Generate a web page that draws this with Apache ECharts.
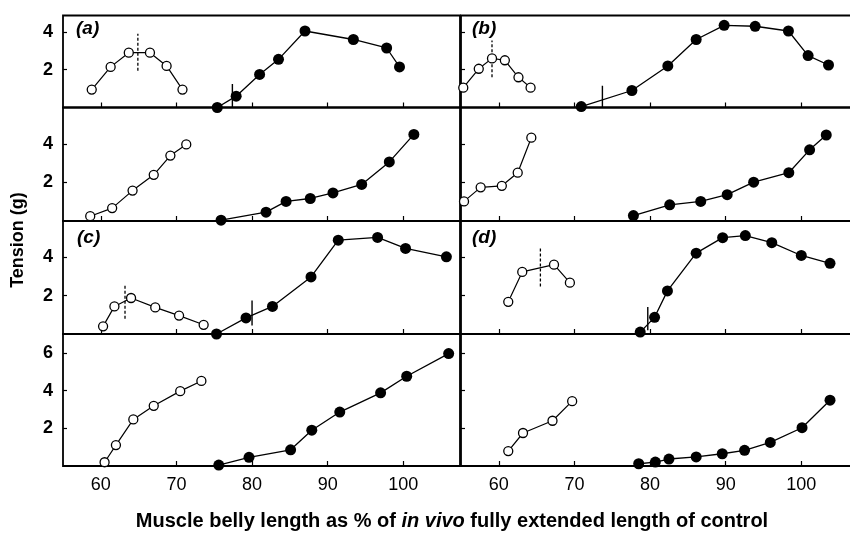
<!DOCTYPE html>
<html>
<head>
<meta charset="utf-8">
<script src="https://cdn.jsdelivr.net/npm/echarts@6/dist/echarts.min.js"></script>
<style>html,body{margin:0;padding:0;background:#fff;overflow:hidden}#c{width:870px;height:535px}</style>
</head>
<body>
<div id="c"></div>
<script>
// ---- data (x = muscle belly length %, y = tension g) ----
const xTickValues = [60, 70, 80, 90, 100];
const rowYTicks = [[2, 4], [2, 4], [2, 4], [2, 4, 6]];
const rowYMax = [4.87, 5.9, 5.9, 7.0];

const panelA_open = [[58.8,0.95],[61.3,2.15],[63.7,2.9],[66.5,2.9],[68.7,2.2],[70.8,0.95]];
const panelA_filled = [[75.4,0],[77.9,0.6],[81.0,1.75],[83.5,2.55],[87.0,4.05],[93.4,3.6],[97.8,3.15],[99.5,2.15]];
const panelA_dash = [[64.9,1.95],[64.9,3.9]];
const panelA_mark = [[77.4,0],[77.4,1.25]];

const panelB_open = [[55.3,1.05],[57.35,2.05],[59.1,2.6],[60.8,2.5],[62.6,1.6],[64.2,1.05]];
const panelB_filled = [[70.9,0.05],[77.6,0.9],[82.35,2.2],[86.1,3.6],[89.8,4.35],[93.9,4.3],[98.3,4.05],[100.9,2.75],[103.6,2.25]];
const panelB_dash = [[59.1,1.6],[59.1,3.55]];
const panelB_mark = [[73.7,0],[73.7,1.15]];

const panelA2_open = [[58.6,0.25],[61.5,0.67],[64.2,1.58],[67.0,2.4],[69.2,3.4],[71.3,3.98]];
const panelA2_filled = [[75.9,0.04],[81.85,0.46],[84.5,1.02],[87.7,1.17],[90.7,1.46],[94.5,1.9],[98.15,3.07],[101.4,4.5]];

const panelB2_open = [[55.4,1.02],[57.6,1.75],[60.4,1.83],[62.5,2.51],[64.3,4.33]];
const panelB2_filled = [[77.8,0.28],[82.6,0.84],[86.7,1.02],[90.2,1.37],[93.7,2.02],[98.35,2.51],[101.1,3.7],[103.3,4.47]];

const panelC_open = [[60.3,0.4],[61.8,1.44],[64.0,1.88],[67.2,1.39],[70.35,0.96],[73.6,0.48]];
const panelC_filled = [[75.3,0],[79.2,0.84],[82.7,1.44],[87.8,2.98],[91.4,4.9],[96.6,5.04],[100.3,4.47],[105.7,4.03]];
const panelC_dash = [[63.2,0.79],[63.2,2.56]];
const panelC_mark = [[80.0,0.44],[80.0,1.75]];

const panelD_open = [[61.25,1.68],[63.1,3.24],[67.3,3.62],[69.4,2.68]];
const panelD_filled = [[78.7,0.1],[80.6,0.87],[82.3,2.25],[86.1,4.22],[89.6,5.03],[92.6,5.14],[96.1,4.77],[100.0,4.1],[103.8,3.69]];
const panelD_dash = [[65.5,2.48],[65.5,4.47]];
const panelD_mark = [[79.7,0.2],[79.7,1.41]];

const panelC2_open = [[60.5,0.2],[62.0,1.11],[64.3,2.47],[67.0,3.19],[70.5,3.97],[73.3,4.51]];
const panelC2_filled = [[75.6,0.05],[79.6,0.46],[85.1,0.86],[87.9,1.9],[91.6,2.86],[97.0,3.88],[100.45,4.76],[106.0,5.96]];

const panelD2_open = [[61.25,0.79],[63.2,1.75],[67.1,2.4],[69.7,3.44]];
const panelD2_filled = [[78.5,0.12],[80.7,0.21],[82.5,0.37],[86.1,0.48],[89.55,0.65],[92.5,0.83],[95.9,1.25],[100.1,2.03],[103.8,3.49]];

const panelLabels = ['(a)', '(b)', '(c)', '(d)'];

// ---- layout ----
const rows = [{top:15.5,h:92},{top:107.5,h:113.5},{top:221,h:113},{top:334,h:132}];
const cols = [{left:63,w:397},{left:461,w:397}];

const panels = [
  {r:0,c:0,open:panelA_open,filled:panelA_filled,dash:panelA_dash,mark:panelA_mark},
  {r:0,c:1,open:panelB_open,filled:panelB_filled,dash:panelB_dash,mark:panelB_mark},
  {r:1,c:0,open:panelA2_open,filled:panelA2_filled},
  {r:1,c:1,open:panelB2_open,filled:panelB2_filled},
  {r:2,c:0,open:panelC_open,filled:panelC_filled,dash:panelC_dash,mark:panelC_mark},
  {r:2,c:1,open:panelD_open,filled:panelD_filled,dash:panelD_dash,mark:panelD_mark},
  {r:3,c:0,open:panelC2_open,filled:panelC2_filled},
  {r:3,c:1,open:panelD2_open,filled:panelD2_filled}
];

const grid = [], xAxis = [], yAxis = [], series = [];
const FONT = 'Liberation Sans';
panels.forEach((p, i) => {
  const R = rows[p.r], C = cols[p.c];
  grid.push({left:C.left, top:R.top, width:C.w, height:R.h, show:true,
    borderColor:'#000', borderWidth:1.8, backgroundColor:'transparent', containLabel:false});
  xAxis.push({type:'value', gridIndex:i, min:55, max:107.5,
    axisLine:{show:false}, splitLine:{show:false},
    axisTick:{show:true, inside:true, length:5, lineStyle:{color:'#000',width:1.2}, customValues:xTickValues},
    axisLabel:{show:p.r===3, customValues:xTickValues, color:'#000', fontFamily:FONT, fontSize:18, margin:10}
  });
  yAxis.push({type:'value', gridIndex:i, min:0, max:rowYMax[p.r],
    axisLine:{show:false}, splitLine:{show:false},
    axisTick:{show:true, inside:true, length:4, lineStyle:{color:'#000',width:1.2}, customValues:rowYTicks[p.r]},
    axisLabel:{show:p.c===0, customValues:rowYTicks[p.r], color:'#000', fontFamily:FONT, fontWeight:'bold', fontSize:18, margin:10}
  });
  series.push({type:'line', xAxisIndex:i, yAxisIndex:i, data:p.open, symbol:'circle', symbolSize:9,
    lineStyle:{color:'#000',width:1.2}, itemStyle:{color:'#fff',borderColor:'#000',borderWidth:1.3}, z:3, animation:false, silent:true});
  series.push({type:'line', xAxisIndex:i, yAxisIndex:i, data:p.filled, symbol:'circle', symbolSize:11,
    lineStyle:{color:'#000',width:1.3}, itemStyle:{color:'#000'}, z:3, animation:false, silent:true});
  if (p.dash) series.push({type:'line', xAxisIndex:i, yAxisIndex:i, data:p.dash, symbol:'none',
    lineStyle:{color:'#000',width:1.3,type:[3,2]}, z:2, animation:false, silent:true});
  if (p.mark) series.push({type:'line', xAxisIndex:i, yAxisIndex:i, data:p.mark, symbol:'none',
    lineStyle:{color:'#000',width:1.4}, z:2, animation:false, silent:true});
});

const labelPos = [[76,19],[472,19],[77,228],[472,228]];
const graphic = panelLabels.map((t, k) => ({type:'text', left:labelPos[k][0], top:labelPos[k][1],
  style:{text:t, font:'italic bold 19px "Liberation Sans"', fill:'#000'}}));
graphic.push({type:'text', x:18, y:240, rotation:Math.PI/2,
  style:{text:'Tension (g)', font:'bold 18px "Liberation Sans"', fill:'#000', align:'center', verticalAlign:'middle'}});
graphic.push({type:'text', x:452, y:521,
  style:{rich:{n:{font:'bold 20px "Liberation Sans"',fill:'#000'}, i:{font:'italic bold 20px "Liberation Sans"',fill:'#000'}},
    text:'{n|Muscle belly length as % of }{i|in vivo}{n| fully extended length of control}',
    align:'center', verticalAlign:'middle'}});

const chart = echarts.init(document.getElementById('c'), null, {renderer:'canvas'});
chart.setOption({animation:false, grid, xAxis, yAxis, series, graphic});
</script>
</body>
</html>
